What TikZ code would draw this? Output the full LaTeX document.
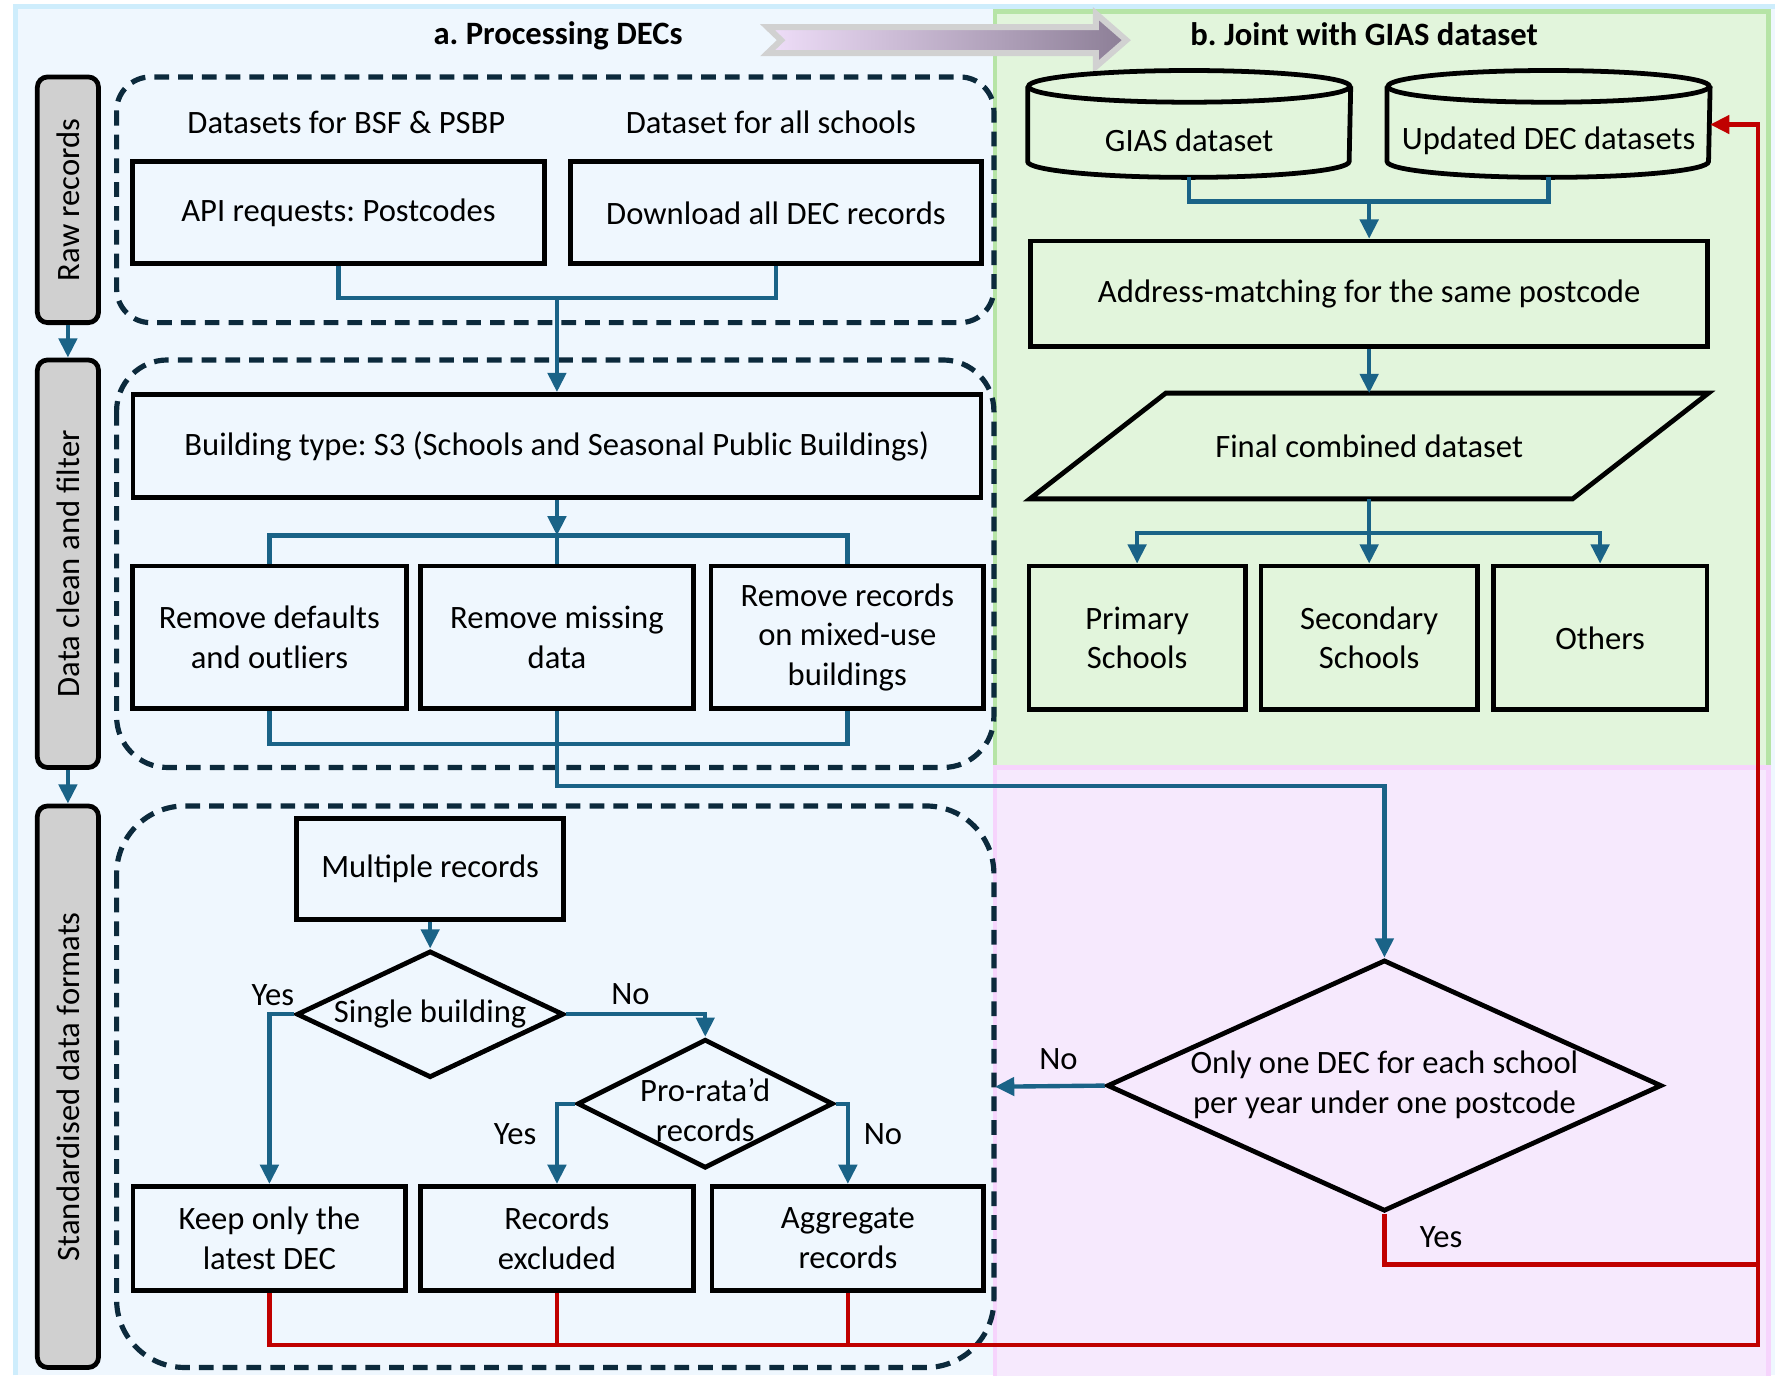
\documentclass[tikz,border=0pt]{standalone}
\usepackage{fontspec}
\setmainfont{Carlito}
\usetikzlibrary{arrows.meta,shapes.geometric}
\definecolor{panelblue}{RGB}{239,247,254}
\definecolor{panelblueline}{RGB}{206,237,252}
\definecolor{panelgreen}{RGB}{226,245,220}
\definecolor{panelgreenline}{RGB}{182,228,166}
\definecolor{panelpink}{RGB}{246,233,253}
\definecolor{panelpinkline}{RGB}{246,212,252}
\definecolor{flowblue}{RGB}{26,99,135}
\definecolor{flowred}{RGB}{192,0,0}
\definecolor{dashnavy}{RGB}{12,42,60}
\definecolor{bargray}{RGB}{208,208,208}
\definecolor{arrowstart}{RGB}{239,222,249}
\definecolor{arrowend}{RGB}{140,126,150}

\begin{document}
\frenchspacing
\begin{tikzpicture}[x=0.1mm, y=-0.1mm,
	every node/.append style={font=\fontsize{8.2}{10}\selectfont},
	proc/.style={draw, line width=1.2pt, rectangle, align=center, inner sep=1pt},
	bar/.style={draw, line width=1.2pt, fill=bargray, rounded corners=0.9mm, rotate=90, minimum height=5.4mm},
	grp/.style={draw=dashnavy, line width=1.3pt, dash pattern=on 1.3mm off 0.8mm},
	decision/.style={draw, line width=1.2pt, diamond, inner sep=0pt, align=center},
	conn/.style={draw=flowblue, line width=1.1pt},
	arr/.style={conn, -{Triangle[length=1.7mm,width=1.6mm]}},
	redline/.style={draw=flowred, line width=1.1pt},
	lbl/.style={inner sep=1pt}]
		\useasboundingbox (0,0) rectangle (1568,1215);
		\fill[panelblue] (14,6) rectangle (1568,1215);
		\draw[panelblueline, line width=1.2pt] (14,1215) -- (14,6) -- (1568,6);
		\draw[panelgreenline, fill=panelgreen, line width=1.2pt] (879,10) rectangle (1562,678);
		\draw[panelpinkline, fill=panelpink, line width=1.2pt] (879,678) rectangle (1562,1222);
		\shadedraw[left color=arrowstart, right color=arrowend, draw=black!18, line width=1.5pt] (678,24) -- (968,24) -- (968,12) -- (995,35.5) -- (968,59) -- (968,47) -- (678,47) -- (690,35.5) -- cycle;

		\node[font=\fontsize{8.2}{10}\selectfont\bfseries] (ta) at (493,32) {a. Processing DECs};
		\node[font=\fontsize{8.2}{10}\selectfont\bfseries] (tb) at (1205,30) {b. Joint with GIAS dataset};

		\draw[grp, rounded corners=3mm] (103,68) rectangle (878,285);
		\draw[grp, rounded corners=4.5mm] (103,318) rectangle (878,678);
		\draw[grp, rounded corners=6mm] (103,712) rectangle (878,1208);

		\node[bar, minimum width=21.7mm] (raw) at (60,176.5) {Raw records};
		\node[bar, minimum width=36mm] (clean) at (60,498) {Data clean and filter};
		\node[bar, minimum width=49.6mm] (std) at (60,960) {Standardised data formats};
		\draw[arr] (raw.west) -- (clean.east);
		\draw[arr] (clean.west) -- (std.east);

		\node[lbl] (lbsf) at (306,108) {Datasets for BSF \& PSBP};
		\node[lbl] (lall) at (681,108) {Dataset for all schools};
		\node[proc, minimum width=36.4mm, minimum height=9mm] (api) at (299,188) {API requests: Postcodes};
		\node[proc, minimum width=36.3mm, minimum height=9mm] (dl) at (685.5,188) {Download all DEC records};
		\coordinate (j1) at (492,263);
		\draw[conn] (api.south) |- (j1) -| (dl.south);
		\node[proc, minimum width=74.9mm, minimum height=9.1mm] (bt) at (492,394) {Building type: S3 (Schools and Seasonal Public Buildings)};
		\draw[arr] (j1) -- (bt.north);

		\coordinate (j2) at (492,473);
		\draw[arr] (bt.south) -- (j2);
		\node[proc, minimum width=24.2mm, minimum height=12.6mm] (rmdef) at (238,563) {Remove defaults\\and outliers};
		\node[proc, minimum width=24.1mm, minimum height=12.6mm] (rmmiss) at (492,563) {Remove missing\\data};
		\node[proc, minimum width=24.1mm, minimum height=12.6mm] (rmmix) at (748.5,563) {Remove records\\on mixed-use\\buildings};
		\draw[conn] (rmdef.north) |- (j2) -| (rmmix.north);
		\draw[conn] (j2) -- (rmmiss.north);
		\draw[conn] (rmdef.south) -- ++(0,29) -| (rmmix.south);

		\node[proc, minimum width=23.6mm, minimum height=8.9mm] (multi) at (380,767.5) {Multiple records};
		\node[decision, minimum width=23.6mm, minimum height=11.2mm] (single) at (380,896) {\makebox[0pt]{Single building}};
		\node[decision, minimum width=22.6mm, minimum height=11.4mm] (prorata) at (623,975) {\makebox[0pt]{\begin{tabular}{@{}c@{}}\rule{0pt}{4.2mm}Pro-rata’d\\records\end{tabular}}};
		\node[proc, minimum width=24.1mm, minimum height=9.2mm] (keep) at (238,1094) {Keep only the\\latest DEC};
		\node[proc, minimum width=24.1mm, minimum height=9.2mm] (excl) at (492,1094) {Records\\excluded};
		\node[proc, minimum width=24mm, minimum height=9.2mm] (aggr) at (749,1094) {Aggregate\\records};
		\draw[arr] (multi.south) -- (single.north);
		\draw[arr] (single.west) -| (keep.north);
		\draw[arr] (single.east) -| (prorata.north);
		\draw[arr] (prorata.west) -| (excl.north);
		\draw[arr] (prorata.east) -| (aggr.north);
		\node[lbl] (ys1) at (241,879) {Yes};
		\node[lbl] (ns1) at (557,878) {No};
		\node[lbl] (ys2) at (455,1002) {Yes};
		\node[lbl] (ns2) at (780,1002) {No};

		\node[minimum width=28.4mm, minimum height=6.4mm] (gias) at (1050.5,124) {GIAS dataset};
		\node[minimum width=28.4mm, minimum height=6.4mm] (upd) at (1368,124) {Updated DEC datasets};
		\foreach \c in {gias,upd}{
			\draw[line width=1.2pt] ([yshift=1.5mm]\c.north west) -- ([yshift=1.4mm]\c.south west) arc[start angle=180, end angle=360, x radius=14.2mm, y radius=1.4mm] -- ([yshift=1.5mm]\c.north east);
			\draw[line width=1.2pt] ([yshift=1.5mm]\c.north) ellipse[x radius=14.2mm, y radius=1.4mm];
		}
		\coordinate (j4) at (1209.5,178);
		\draw[conn] (gias.south) |- (j4) -| (upd.south);
		\node[proc, minimum width=59.8mm, minimum height=9.3mm] (addr) at (1209.5,259.5) {Address-matching for the same postcode};
		\draw[arr] (j4) -- (addr.north);
		\node[minimum width=59.8mm, minimum height=9.2mm] (final) at (1209.5,394) {Final combined dataset};
		\draw[line width=1.2pt] (final.south west) -- ([xshift=-12mm]final.south east) -- (final.north east) -- ([xshift=12mm]final.north west) -- cycle;
		\draw[arr] (addr.south) -- (final.north);
		\node[proc, minimum width=19.1mm, minimum height=12.7mm] (prim) at (1004.5,563.5) {Primary\\Schools};
		\node[proc, minimum width=19.1mm, minimum height=12.7mm] (sec) at (1209.5,563.5) {Secondary\\Schools};
		\node[proc, minimum width=18.9mm, minimum height=12.7mm] (oth) at (1413.5,563.5) {Others};
		\coordinate (j5) at (1209.5,471);
		\draw[arr] (final.south) -- (sec.north);
		\draw[arr] (j5) -| (prim.north);
		\draw[arr] (j5) -| (oth.north);

		\node[decision, minimum width=49mm, minimum height=22.2mm] (onlyone) at (1223,959) {\makebox[0pt]{\begin{tabular}{@{}c@{}}Only one DEC for each school\\per year under one postcode\end{tabular}}};
		\draw[arr] (rmmiss.south) -- ++(0,66) -| (onlyone.north);
		\coordinate (nob) at (879,960);
		\draw[arr] (onlyone.west) -- (nob);
		\node[lbl] (ns3) at (935,936) {No};
		\coordinate (rc) at (1553,1188);
		\coordinate (ry) at (1553,1117);
		\draw[redline, -{Triangle[length=1.7mm,width=1.6mm]}] (keep.south) |- (rc) |- ([yshift=1.4mm]upd.east);
		\draw[redline] (excl.south) -- (excl.south |- rc);
		\draw[redline] (aggr.south) -- (aggr.south |- rc);
		\draw[redline] (onlyone.south) |- (ry);
		\node[lbl] (ys3) at (1273,1093) {Yes};
	\end{tikzpicture}
\end{document}
